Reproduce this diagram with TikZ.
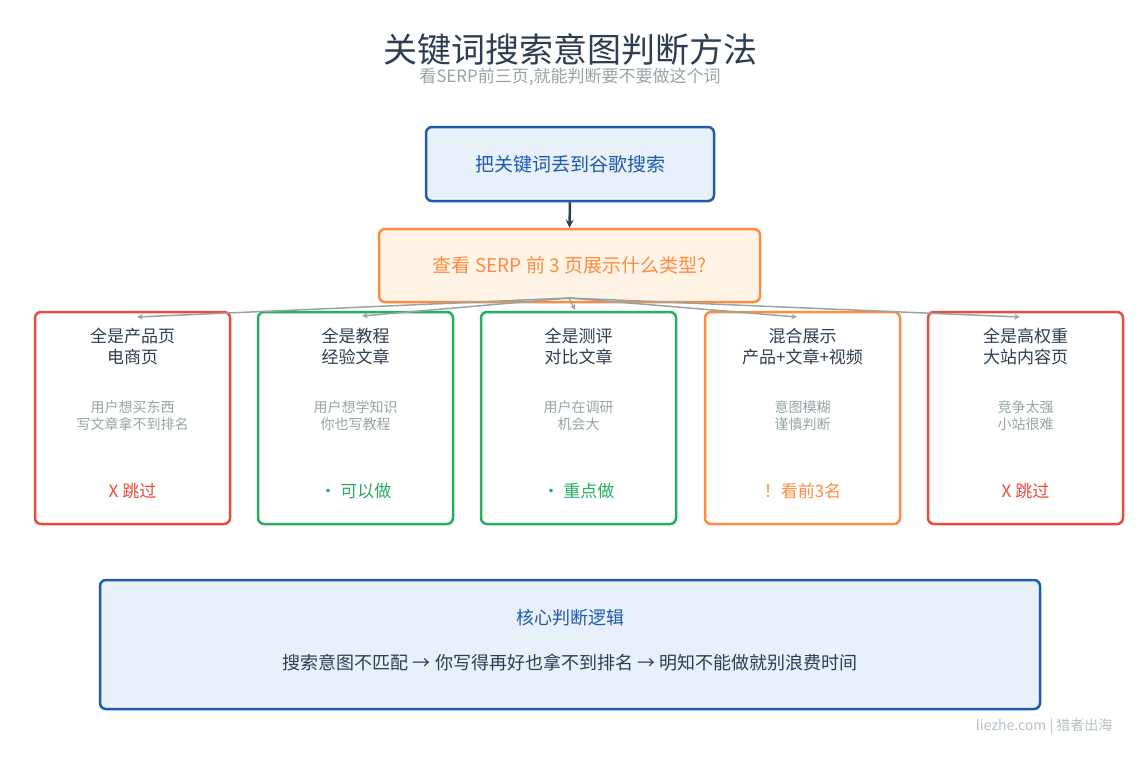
\documentclass[tikz,border=0pt]{standalone}
\usepackage{fontspec}
\setmainfont{Noto Sans CJK SC}
\usetikzlibrary{positioning}
\definecolor{bluedark}{HTML}{1F5AAE}
\definecolor{bluefill}{HTML}{E8F0FA}
\definecolor{orangeline}{HTML}{FF8C42}
\definecolor{orangefill}{HTML}{FFF3E6}
\definecolor{redline}{HTML}{E74C3C}
\definecolor{greenline}{HTML}{27AE60}
\definecolor{greytext}{HTML}{95A5A6}
\definecolor{darktext}{HTML}{2C3E50}
\tikzstyle{mybox} = [draw, line width=2.5pt, rectangle, rounded corners=6pt,
    inner sep=0pt, fill=white]
\tikzstyle{typebox} = [mybox, minimum width=195pt, minimum height=212pt]
\tikzstyle{boxtitle} = [text=darktext, font=\fontsize{17}{21}\selectfont, align=center]
\tikzstyle{boxdesc} = [text=greytext, font=\fontsize{14}{17}\selectfont, align=center]
\tikzstyle{verdict} = [font=\fontsize{17}{20}\selectfont]
\tikzstyle{fan} = [draw=greytext, line width=1.5pt, ->, >=stealth]

\begin{document}
\begin{tikzpicture}[x=1pt, y=-1pt]
\useasboundingbox (0,0) rectangle (1140,763);
%------------ Header ---------------------
\node[text=darktext, font=\fontsize{34}{38}\selectfont] (title) at (570,50) {关键词搜索意图判断方法};
\node[text=greytext, font=\fontsize{17}{20}\selectfont] (subtitle) at (570,77) {看SERP前三页,就能判断要不要做这个词};
%------------ Flow ---------------------
\node[mybox, draw=bluedark, fill=bluefill, minimum width=288pt, minimum height=74pt,
    text=bluedark, font=\fontsize{19}{22}\selectfont] (search) at (570,164) {把关键词丢到谷歌搜索};
\node[mybox, draw=orangeline, fill=orangefill, minimum width=381pt, minimum height=73pt,
    text=orangeline, font=\fontsize{19}{22}\selectfont] (check) at (569.5,265.5) {查看 SERP 前 3 页展示什么类型?};
\draw[darktext, line width=2.5pt, ->, >=stealth] (search.south) -- (check.north);
%------------ Types ---------------------
\foreach \name/\x/\col/\ta/\tb/\da/\db/\vv in {
    shop/132.5/redline/全是产品页/电商页/用户想买东西/写文章拿不到排名/X 跳过,
    guide/355.5/greenline/全是教程/经验文章/用户想学知识/你也写教程/· 可以做,
    review/578.5/greenline/全是测评/对比文章/用户在调研/机会大/· 重点做,
    mixed/802.5/orangeline/混合展示/产品+文章+视频/意图模糊/谨慎判断/！看前3名,
    big/1025.5/redline/全是高权重/大站内容页/竞争太强/小站很难/X 跳过} {
  \node[typebox, draw=\col] (\name) at (\x,418) {};
  \node[boxtitle, below=14pt of \name.north] (\name-title) {\ta\\\tb};
  \node[boxdesc, below=86pt of \name.north] (\name-desc) {\da\\\db};
  \node[verdict, text=\col] (\name-verdict) at (\x,491) {\vv};
}
\coordinate (fork) at (569,298);
\draw[fan] (fork) -- (137,317);
\draw[fan] (fork) -- (362,316);
\draw[fan] (fork) -- (575,310);
\draw[fan] (fork) -- (797,317);
\draw[fan] (fork) -- (1020,317);
%------------ Core logic ---------------------
\node[mybox, draw=bluedark, fill=bluefill, minimum width=940pt, minimum height=129pt] (logic) at (570,644.5) {};
\node[text=bluedark, font=\fontsize{18}{21}\selectfont] (logic-title) at (570,618) {核心判断逻辑};
\node[text=darktext, font=\fontsize{18}{21}\selectfont] (logic-text) at (570,663) {搜索意图不匹配 → 你写得再好也拿不到排名 → 明知不能做就别浪费时间};
\node[text=greytext!70, font=\fontsize{14}{17}\selectfont, anchor=east] (footer) at (1116,727) {liezhe.com | 猎者出海};
\end{tikzpicture}
\end{document}
